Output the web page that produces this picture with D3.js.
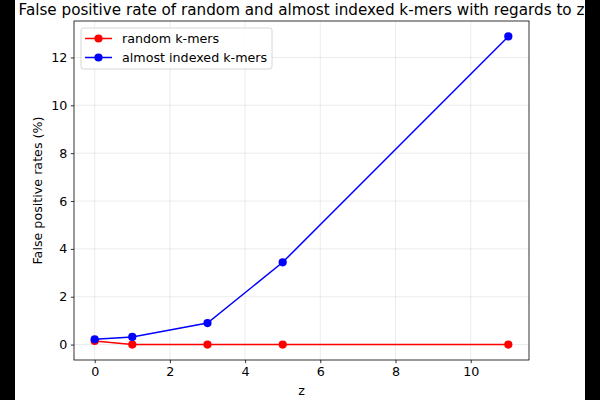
<!DOCTYPE html>
<html><head><meta charset="utf-8">
<script src="https://cdn.jsdelivr.net/npm/d3@7"></script>
<style>
html,body{margin:0;padding:0;background:#000;}
svg{display:block;}
text{font-family:"DejaVu Sans",sans-serif;}
</style></head>
<body>
<svg id="chart" width="600" height="400"></svg>
<script>
const zValues = [0, 1, 3, 5, 11];
const randomKmers = [0.15, 0, 0, 0, 0];
const almostIndexedKmers = [0.22, 0.32, 0.9, 3.44, 12.88];
const xTicks = [0, 2, 4, 6, 8, 10];
const yTicks = [0, 2, 4, 6, 8, 10, 12];
const seriesNames = ["random k-mers", "almost indexed k-mers"];
const seriesColors = ["#ff0000", "#0000ff"];

const svg = d3.select("#chart");
// white figure area (image is cropped with black borders)
svg.append("rect").attr("x",15).attr("y",0).attr("width",570).attr("height",400).attr("fill","#fff");
svg.append("defs").append("clipPath").attr("id","figclip")
  .append("rect").attr("x",15).attr("y",0).attr("width",570).attr("height",400);

const L=74, R=529, T=21, B=360;
const FS = 12.7;
const x = d3.scaleLinear().domain([-0.55, 11.55]).range([L, R]);
const y = d3.scaleLinear().domain([-0.644, 13.524]).range([B, T]);

const g = svg.append("g").attr("clip-path","url(#figclip)");

// grid
g.append("g").selectAll("line").data(xTicks).join("line")
  .attr("x1",d=>x(d)).attr("x2",d=>x(d)).attr("y1",T).attr("y2",B)
  .attr("stroke","#b0b0b0").attr("stroke-opacity",0.3).attr("stroke-width",0.8);
g.append("g").selectAll("line").data(yTicks).join("line")
  .attr("y1",d=>y(d)).attr("y2",d=>y(d)).attr("x1",L).attr("x2",R)
  .attr("stroke","#b0b0b0").attr("stroke-opacity",0.3).attr("stroke-width",0.8);

// axes
const xAxis = d3.axisBottom(x).tickValues(xTicks).tickSize(3.2).tickPadding(3.5).tickFormat(d3.format("d"));
const yAxis = d3.axisLeft(y).tickValues(yTicks).tickSize(3.2).tickPadding(3.5).tickFormat(d3.format("d"));
const xa = g.append("g").attr("transform",`translate(0,${B})`).call(xAxis);
const ya = g.append("g").attr("transform",`translate(${L},0)`).call(yAxis);
[xa,ya].forEach(a=>{
  a.select(".domain").remove();
  a.selectAll("text").attr("font-size",FS+"px").attr("fill","#000").attr("font-family","DejaVu Sans");
  a.selectAll("line").attr("stroke","#000").attr("stroke-width",0.8);
});

// series
const series = [randomKmers, almostIndexedKmers];
const line = d3.line().x((d,i)=>x(zValues[i])).y(d=>y(d));
series.forEach((s,k)=>{
  g.append("path").datum(s).attr("d",line).attr("fill","none")
    .attr("stroke",seriesColors[k]).attr("stroke-width",1.5);
  g.append("g").selectAll("circle").data(s).join("circle")
    .attr("cx",(d,i)=>x(zValues[i])).attr("cy",d=>y(d)).attr("r",4.1)
    .attr("fill",seriesColors[k]);
});

// spines
g.append("rect").attr("x",L).attr("y",T).attr("width",R-L).attr("height",B-T)
  .attr("fill","none").attr("stroke","#000").attr("stroke-width",0.8);

// legend
const lg = g.append("g");
lg.append("rect").attr("x",81).attr("y",28).attr("width",191).attr("height",41).attr("rx",2.5)
  .attr("fill","#fff").attr("fill-opacity",0.8).attr("stroke","#cccccc").attr("stroke-width",0.8);
seriesNames.forEach((n,k)=>{
  const yy = 38.5 + k*19;
  lg.append("line").attr("x1",85).attr("x2",112).attr("y1",yy).attr("y2",yy)
    .attr("stroke",seriesColors[k]).attr("stroke-width",1.5);
  lg.append("circle").attr("cx",98.5).attr("cy",yy).attr("r",4.1).attr("fill",seriesColors[k]);
  lg.append("text").attr("x",122).attr("y",yy).attr("dy","0.35em")
    .attr("font-size",FS+"px").attr("fill","#000").text(n);
});

// labels
g.append("text").attr("x",(L+R)/2).attr("y",15).attr("text-anchor","middle")
  .attr("font-size","15.2px").attr("fill","#000")
  .text("False positive rate of random and almost indexed k-mers with regards to z");
g.append("text").attr("x",(L+R)/2).attr("y",395).attr("text-anchor","middle")
  .attr("font-size",FS+"px").attr("fill","#000").text("z");
g.append("text").attr("transform",`translate(42,${(T+B)/2}) rotate(-90)`).attr("text-anchor","middle")
  .attr("font-size",FS+"px").attr("fill","#000").text("False positive rates (%)");
</script>
</body></html>
